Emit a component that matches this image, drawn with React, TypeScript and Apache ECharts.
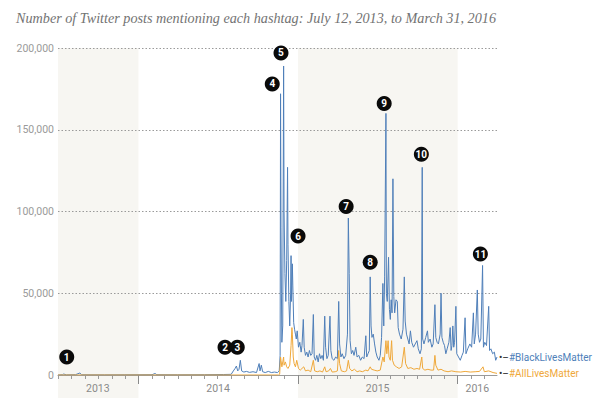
import React, { useEffect, useRef } from "react";
import * as echarts from "echarts";

const TITLE = "Number of Twitter posts mentioning each hashtag: July 12, 2013, to March 31, 2016";
const X_MIN = "2013-07-01";
const X_MAX = "2016-03-31";
const Y_MAX = 200000;
const Y_STEP = 50000;

const YEAR_BOUNDS = ["2014-01-01", "2015-01-01", "2016-01-01"];
const YEAR_LABELS: [string, string][] = [
  ["2013", "2013-09-30"],
  ["2014", "2014-07-02"],
  ["2015", "2015-07-02"],
  ["2016", "2016-02-15"],
];
const BANDS: [string, string][] = [
  ["2013-07-01", "2014-01-01"],
  ["2015-01-01", "2016-01-01"],
];

const BLM: [string, number][] = [
  ["2013-07-01", 0], ["2013-07-12", 200], ["2013-07-14", 600], ["2013-07-20", 100],
  ["2013-08-10", 200], ["2013-08-20", 1200], ["2013-08-24", 150], ["2013-10-15", 100],
  ["2013-12-01", 150], ["2014-02-01", 200], ["2014-02-08", 900], ["2014-02-12", 200],
  ["2014-04-01", 150], ["2014-06-01", 200], ["2014-07-15", 300], ["2014-08-01", 400],
  ["2014-08-06", 2500], ["2014-08-10", 4000], ["2014-08-13", 5500], ["2014-08-16", 2500],
  ["2014-08-19", 3500], ["2014-08-22", 9000], ["2014-08-25", 2500], ["2014-08-30", 1800],
  ["2014-09-05", 2200], ["2014-09-12", 1600], ["2014-09-20", 2000], ["2014-09-28", 1500],
  ["2014-10-04", 7000], ["2014-10-06", 2500], ["2014-10-09", 6000], ["2014-10-12", 2000],
  ["2014-10-18", 1500], ["2014-10-25", 2200], ["2014-11-01", 1500], ["2014-11-08", 1800],
  ["2014-11-15", 1500], ["2014-11-19", 2500], ["2014-11-21", 12000], ["2014-11-22", 172000],
  ["2014-11-23", 90000], ["2014-11-24", 50000], ["2014-11-25", 20000], ["2014-11-27", 30000],
  ["2014-11-29", 189000], ["2014-11-30", 100000], ["2014-12-02", 62000], ["2014-12-04", 45000],
  ["2014-12-06", 70000], ["2014-12-08", 127000], ["2014-12-09", 80000], ["2014-12-11", 45000],
  ["2014-12-13", 30000], ["2014-12-15", 50000], ["2014-12-16", 73000], ["2014-12-17", 45000],
  ["2014-12-19", 68000], ["2014-12-20", 55000], ["2014-12-22", 32000], ["2014-12-24", 28000],
  ["2014-12-26", 25000], ["2014-12-28", 22000], ["2014-12-30", 27000], ["2015-01-02", 17000],
  ["2015-01-05", 20000], ["2015-01-08", 14000], ["2015-01-10", 18000], ["2015-01-13", 34000],
  ["2015-01-15", 17000], ["2015-01-18", 12000], ["2015-01-21", 14000], ["2015-01-24", 11000],
  ["2015-01-27", 15000], ["2015-01-30", 12000], ["2015-02-02", 13000], ["2015-02-05", 37000],
  ["2015-02-07", 11000], ["2015-02-10", 9000], ["2015-02-13", 12000], ["2015-02-16", 8000],
  ["2015-02-19", 13000], ["2015-02-22", 10000], ["2015-02-25", 12000], ["2015-02-28", 9000],
  ["2015-03-03", 36000], ["2015-03-05", 17000], ["2015-03-08", 10000], ["2015-03-11", 12000],
  ["2015-03-15", 36000], ["2015-03-17", 15000], ["2015-03-20", 10000], ["2015-03-24", 9000],
  ["2015-03-28", 11000], ["2015-04-01", 10000], ["2015-04-04", 45000], ["2015-04-06", 19000],
  ["2015-04-09", 11000], ["2015-04-12", 13000], ["2015-04-16", 10000], ["2015-04-20", 12000],
  ["2015-04-24", 25000], ["2015-04-26", 96000], ["2015-04-28", 62000], ["2015-04-30", 21000],
  ["2015-05-03", 13000], ["2015-05-06", 15000], ["2015-05-09", 12000], ["2015-05-13", 17000],
  ["2015-05-16", 11000], ["2015-05-20", 12000], ["2015-05-24", 9000], ["2015-05-28", 11000],
  ["2015-06-01", 10000], ["2015-06-05", 24000], ["2015-06-07", 11000], ["2015-06-10", 13000],
  ["2015-06-13", 15000], ["2015-06-15", 60000], ["2015-06-17", 30000], ["2015-06-19", 23000],
  ["2015-06-22", 25000], ["2015-06-25", 19000], ["2015-06-28", 14000], ["2015-07-01", 11000],
  ["2015-07-05", 9000], ["2015-07-08", 12000], ["2015-07-11", 23000], ["2015-07-14", 56000],
  ["2015-07-16", 30000], ["2015-07-18", 60000], ["2015-07-21", 160000], ["2015-07-22", 50000],
  ["2015-07-24", 45000], ["2015-07-27", 72000], ["2015-07-29", 40000], ["2015-07-31", 34000],
  ["2015-08-02", 46000], ["2015-08-04", 38000], ["2015-08-06", 120000], ["2015-08-08", 48000],
  ["2015-08-10", 38000], ["2015-08-13", 46000], ["2015-08-16", 45000], ["2015-08-18", 29000],
  ["2015-08-21", 25000], ["2015-08-25", 22000], ["2015-08-29", 28000], ["2015-09-01", 60000],
  ["2015-09-03", 33000], ["2015-09-06", 25000], ["2015-09-09", 22000], ["2015-09-12", 19000],
  ["2015-09-15", 27000], ["2015-09-18", 20000], ["2015-09-22", 17000], ["2015-09-26", 19000],
  ["2015-09-30", 21000], ["2015-10-03", 16000], ["2015-10-07", 13000], ["2015-10-10", 16000],
  ["2015-10-12", 127000], ["2015-10-13", 22000], ["2015-10-16", 19000], ["2015-10-20", 23000],
  ["2015-10-24", 27000], ["2015-10-26", 20000], ["2015-10-30", 22000], ["2015-11-03", 17000],
  ["2015-11-06", 19000], ["2015-11-10", 43000], ["2015-11-12", 23000], ["2015-11-15", 20000],
  ["2015-11-18", 19000], ["2015-11-22", 25000], ["2015-11-24", 50000], ["2015-11-26", 23000],
  ["2015-11-29", 20000], ["2015-12-02", 18000], ["2015-12-05", 13000], ["2015-12-08", 16000],
  ["2015-12-12", 20000], ["2015-12-15", 29000], ["2015-12-17", 15000], ["2015-12-19", 18000],
  ["2015-12-21", 30000], ["2015-12-23", 17000], ["2015-12-25", 20000], ["2015-12-28", 42000],
  ["2015-12-30", 13000], ["2016-01-03", 11000], ["2016-01-07", 9000], ["2016-01-11", 12000],
  ["2016-01-14", 14000], ["2016-01-18", 35000], ["2016-01-20", 13000], ["2016-01-24", 16000],
  ["2016-01-29", 19000], ["2016-02-02", 17000], ["2016-02-06", 38000], ["2016-02-08", 19000],
  ["2016-02-11", 25000], ["2016-02-15", 52000], ["2016-02-17", 25000], ["2016-02-20", 20000],
  ["2016-02-23", 22000], ["2016-02-27", 67000], ["2016-02-29", 17000], ["2016-03-03", 20000],
  ["2016-03-07", 18000], ["2016-03-12", 42000], ["2016-03-14", 15000], ["2016-03-17", 16000],
  ["2016-03-21", 13000], ["2016-03-25", 14000], ["2016-03-28", 9000], ["2016-03-31", 11000],
];

const ALM: [string, number][] = [
  ["2013-07-01", 0], ["2014-11-18", 0], ["2014-11-20", 500], ["2014-11-22", 11000],
  ["2014-11-23", 9000], ["2014-11-25", 5000], ["2014-11-27", 8000], ["2014-11-29", 11000],
  ["2014-11-30", 6000], ["2014-12-03", 8000], ["2014-12-06", 5000], ["2014-12-09", 4000],
  ["2014-12-13", 6000], ["2014-12-16", 18000], ["2014-12-18", 29000], ["2014-12-19", 25000],
  ["2014-12-21", 11000], ["2014-12-23", 7000], ["2014-12-26", 5000], ["2014-12-29", 9000],
  ["2015-01-02", 4000], ["2015-01-06", 3000], ["2015-01-10", 4000], ["2015-01-14", 5000],
  ["2015-01-18", 2500], ["2015-01-24", 3000], ["2015-01-30", 2000], ["2015-02-05", 9000],
  ["2015-02-08", 2500], ["2015-02-14", 2000], ["2015-02-20", 2500], ["2015-02-26", 1800],
  ["2015-03-03", 5000], ["2015-03-06", 2000], ["2015-03-12", 2500], ["2015-03-16", 4000],
  ["2015-03-20", 1800], ["2015-03-27", 2000], ["2015-04-01", 2500], ["2015-04-04", 15000],
  ["2015-04-06", 7000], ["2015-04-10", 2500], ["2015-04-17", 2000], ["2015-04-22", 2500],
  ["2015-04-26", 9000], ["2015-04-29", 4000], ["2015-05-04", 2500], ["2015-05-10", 3500],
  ["2015-05-16", 2000], ["2015-05-22", 2500], ["2015-05-28", 2000], ["2015-06-05", 3000],
  ["2015-06-10", 2500], ["2015-06-15", 5000], ["2015-06-18", 3500], ["2015-06-24", 3000],
  ["2015-07-01", 2500], ["2015-07-08", 3000], ["2015-07-14", 11000], ["2015-07-17", 8000],
  ["2015-07-21", 21000], ["2015-07-23", 13000], ["2015-07-26", 21000], ["2015-07-28", 11000],
  ["2015-07-31", 9000], ["2015-08-03", 21000], ["2015-08-05", 9000], ["2015-08-09", 6000],
  ["2015-08-14", 5000], ["2015-08-20", 4000], ["2015-08-26", 5000], ["2015-09-01", 17000],
  ["2015-09-04", 7000], ["2015-09-09", 4000], ["2015-09-16", 4500], ["2015-09-23", 3500],
  ["2015-09-30", 4000], ["2015-10-06", 3500], ["2015-10-11", 11000], ["2015-10-13", 4000],
  ["2015-10-18", 3000], ["2015-10-25", 3500], ["2015-11-01", 3000], ["2015-11-07", 3000],
  ["2015-11-10", 12000], ["2015-11-12", 6000], ["2015-11-17", 3000], ["2015-11-24", 3500],
  ["2015-12-01", 2500], ["2015-12-10", 2000], ["2015-12-18", 2500], ["2015-12-28", 2000],
  ["2016-01-08", 1800], ["2016-01-18", 2200], ["2016-01-30", 1800], ["2016-02-10", 2000],
  ["2016-02-20", 2200], ["2016-02-28", 5000], ["2016-03-02", 2000], ["2016-03-12", 2500],
  ["2016-03-22", 1500], ["2016-03-31", 1000],
];

// Annotation markers: [label, date, value] anchor of each numbered circle
const ANNOTATIONS: [string, string, number][] = [
  ["1", "2013-07-21", 11000],
  ["2", "2014-07-18", 17000],
  ["3", "2014-08-15", 17000],
  ["4", "2014-11-03", 178000],
  ["5", "2014-11-23", 197000],
  ["6", "2015-01-01", 85000],
  ["7", "2015-04-21", 103000],
  ["8", "2015-06-15", 69000],
  ["9", "2015-07-17", 166000],
  ["10", "2015-10-10", 135000],
  ["11", "2016-02-22", 74000],
];

const ts = (s: string) => {
  const [y, m, d] = s.split("-").map(Number);
  return Date.UTC(y, m - 1, d);
};

const monthStarts = (() => {
  const out: number[] = [];
  const end = ts(X_MAX);
  for (let y = 2013, m = 6; ; m++) {
    if (m > 11) { m = 0; y++; }
    const t = Date.UTC(y, m, 1);
    if (t > end) break;
    out.push(t);
  }
  return out;
})();

const BLUE = "#4f7fb9";
const ORANGE = "#efa83a";
const SANS = "Roboto, 'Liberation Sans', sans-serif";

export default function App() {
  const ref = useRef<HTMLDivElement>(null);

  useEffect(() => {
    document.body.style.margin = "0";
    if (!ref.current) return;
    const chart = echarts.init(ref.current, undefined, { renderer: "svg" });
    const yearLabelMap: Record<number, string> = {};
    YEAR_LABELS.forEach(([l, d]) => (yearLabelMap[ts(d)] = l));

    chart.setOption({
      animation: false,
      backgroundColor: "#ffffff",
      title: {
        text: TITLE,
        left: 11,
        top: 6,
        textStyle: {
          fontFamily: "'Liberation Serif', 'DejaVu Serif', serif",
          fontStyle: "italic",
          fontWeight: "normal",
          fontSize: 14.2,
          color: "#737373",
        },
      },
      grid: { left: 58, right: 108, top: 48, bottom: 28, containLabel: false },
      xAxis: [
        {
          type: "value",
          min: ts(X_MIN),
          max: ts(X_MAX),
          position: "bottom",
          axisLine: { show: true, lineStyle: { color: "#9a9a9a", width: 1 } },
          axisTick: { show: true, customValues: monthStarts, length: 4, lineStyle: { color: "#9a9a9a" } },
          axisLabel: { show: false },
          splitLine: { show: false },
        },
        {
          type: "value",
          min: ts(X_MIN),
          max: ts(X_MAX),
          position: "bottom",
          axisLine: { show: false },
          axisTick: {
            show: true,
            customValues: YEAR_BOUNDS.map(ts),
            length: 9,
            lineStyle: { color: "#8a8a8a" },
          },
          axisLabel: {
            show: true,
            customValues: YEAR_LABELS.map(([, d]) => ts(d)),
            formatter: (v: number) => yearLabelMap[v] ?? "",
            color: "#8a8a8a",
            fontFamily: SANS,
            fontSize: 10.5,
            margin: 8,
          },
          splitLine: { show: false },
        },
      ],
      yAxis: {
        type: "value",
        min: 0,
        max: Y_MAX,
        interval: Y_STEP,
        axisLine: { show: false },
        axisTick: { show: false },
        axisLabel: {
          color: "#9a9a9a",
          fontFamily: SANS,
          fontSize: 10.5,
          margin: 4,
          formatter: (v: number) => v.toLocaleString("en-US"),
        },
        splitLine: { show: true, lineStyle: { type: [1.5, 2], color: "#9a9a9a", width: 1 } },
      },
      series: [
        {
          type: "custom",
          name: "bands",
          xAxisIndex: 0,
          yAxisIndex: 0,
          z: -1,
          silent: true,
          clip: false,
          encode: { x: [0, 1], y: 2 },
          data: BANDS.map(([a, b]) => [ts(a), ts(b), 0]),
          renderItem: (params: any, api: any) => {
            const p0 = api.coord([api.value(0), 0]);
            const p1 = api.coord([api.value(1), 0]);
            const cs = params.coordSys;
            return {
              type: "rect",
              shape: { x: p0[0], y: cs.y, width: p1[0] - p0[0], height: cs.height + 23 },
              style: { fill: "#f7f6f2" },
            };
          },
        },
        {
          type: "line",
          name: "#BlackLivesMatter",
          xAxisIndex: 0,
          data: BLM.map(([d, v]) => [ts(d), v]),
          showSymbol: false,
          symbol: "none",
          lineStyle: { color: BLUE, width: 1 },
          itemStyle: { color: BLUE },
          endLabel: {
            show: true,
            distance: 2,
            formatter: "{d|•–}{t|#BlackLivesMatter}",
            rich: {
              d: { color: "#333333", fontSize: 10, fontFamily: SANS },
              t: { color: BLUE, fontSize: 10, fontFamily: SANS },
            },
          },
        },
        {
          type: "line",
          name: "#AllLivesMatter",
          xAxisIndex: 0,
          data: ALM.map(([d, v]) => [ts(d), v]),
          showSymbol: false,
          symbol: "none",
          lineStyle: { color: ORANGE, width: 1 },
          itemStyle: { color: ORANGE },
          endLabel: {
            show: true,
            distance: 2,
            formatter: "{d|•–}{t|#AllLivesMatter}",
            rich: {
              d: { color: "#333333", fontSize: 10, fontFamily: SANS },
              t: { color: ORANGE, fontSize: 10, fontFamily: SANS },
            },
          },
        },
        {
          type: "scatter",
          name: "annotations",
          xAxisIndex: 0,
          z: 10,
          symbol: "circle",
          symbolSize: 15,
          itemStyle: { color: "#0a0a0a", opacity: 1 },
          data: ANNOTATIONS.map(([l, d, v]) => [ts(d), v, l]),
          label: {
            show: true,
            position: "inside",
            formatter: (p: any) => p.data[2],
            color: "#ffffff",
            fontWeight: "bold",
            fontSize: 10,
            fontFamily: SANS,
          },
        },
      ],
    });
    return () => chart.dispose();
  }, []);

  return <div ref={ref} style={{ width: 605, height: 403 }} />;
}
